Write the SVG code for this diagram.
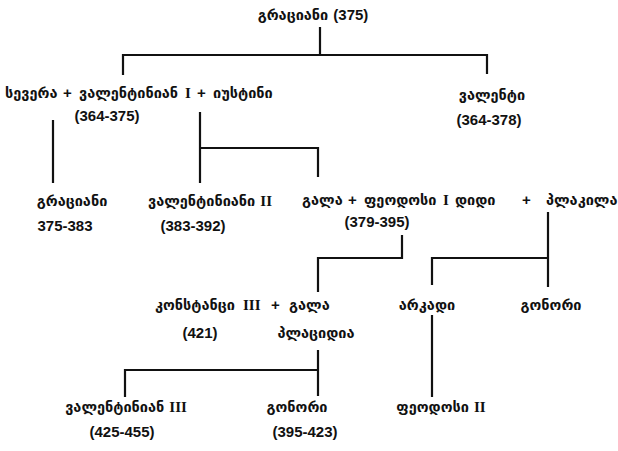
<svg xmlns="http://www.w3.org/2000/svg" width="618" height="451" viewBox="0 0 618 451">
<style>
.g{font-family:"DejaVu Sans",sans-serif;font-weight:bold;font-size:14.5px;fill:#111}
.n{font-family:"Liberation Sans",Arial,sans-serif;font-weight:bold;font-size:15px;fill:#111}
.r{font-family:"Liberation Serif","Times New Roman",serif;font-weight:bold;font-size:15px}
.l{stroke:#111;stroke-width:2.2;fill:none}
</style>
<rect width="618" height="451" fill="#fff"/>
<g id="connectors">
<path class="l" d="M320 27V55M123 75V55H487V74"/>
<path class="l" d="M53 120V183M200 112V183M200 148H318V177"/>
<path class="l" d="M402 235V258H318V292"/>
<path class="l" d="M548 212V287M548 258H432V285"/>
<path class="l" d="M318 350V396M318 370H125V397"/>
<path class="l" d="M432 315V397"/>
</g>
<g id="n_gratian_top"><text class="g" x="313" y="20" text-anchor="middle">გრაციანი <tspan class="n">(375)</tspan></text></g>
<g id="n_valentinian1"><text class="g" y="98"><tspan x="5">სევერა</tspan><tspan class="n" x="63">+</tspan><tspan x="79">ვალენტინიან</tspan><tspan class="r" x="185">I</tspan><tspan class="n" x="197">+</tspan><tspan x="213">იუსტინი</tspan></text>
<text class="n" x="107" y="121" text-anchor="middle">(364-375)</text></g>
<g id="n_valens"><text class="g" x="492" y="100" text-anchor="middle">ვალენტი</text>
<text class="n" x="489" y="125" text-anchor="middle">(364-378)</text></g>
<g id="n_gratian"><text class="g" x="72" y="206" text-anchor="middle">გრაციანი</text>
<text class="n" x="65" y="231" text-anchor="middle">375-383</text></g>
<g id="n_valentinian2"><text class="g" x="210" y="206" text-anchor="middle">ვალენტინიანი <tspan class="r">II</tspan></text>
<text class="n" x="193" y="231" text-anchor="middle">(383-392)</text></g>
<g id="n_theodosius1"><text class="g" y="205"><tspan x="302">გალა</tspan><tspan class="n" x="348">+</tspan><tspan x="364">ფეოდოსი</tspan><tspan class="r" x="443">I</tspan><tspan x="455">დიდი</tspan><tspan class="n" x="522">+</tspan><tspan x="546">პლაკილა</tspan></text>
<text class="n" x="377" y="227" text-anchor="middle">(379-395)</text></g>
<g id="n_constantius"><text class="g" y="310"><tspan x="155">კონსტანცი</tspan><tspan class="r" x="243">III</tspan><tspan class="n" x="271">+</tspan><tspan x="289">გალა</tspan></text>
<text class="n" x="200" y="338" text-anchor="middle">(421)</text>
<text class="g" x="316" y="338" text-anchor="middle">პლაციდია</text></g>
<g id="n_arcadius"><text class="g" x="427" y="310" text-anchor="middle">არკადი</text></g>
<g id="n_honorius_a"><text class="g" x="551" y="310" text-anchor="middle">გონორი</text></g>
<g id="n_valentinian3"><text class="g" x="126" y="412" text-anchor="middle">ვალენტინიან <tspan class="r">III</tspan></text>
<text class="n" x="122" y="437" text-anchor="middle">(425-455)</text></g>
<g id="n_honorius_b"><text class="g" x="297" y="412" text-anchor="middle">გონორი</text>
<text class="n" x="305" y="437" text-anchor="middle">(395-423)</text></g>
<g id="n_theodosius2"><text class="g" x="441" y="412" text-anchor="middle">ფეოდოსი <tspan class="r">II</tspan></text></g>
</svg>
